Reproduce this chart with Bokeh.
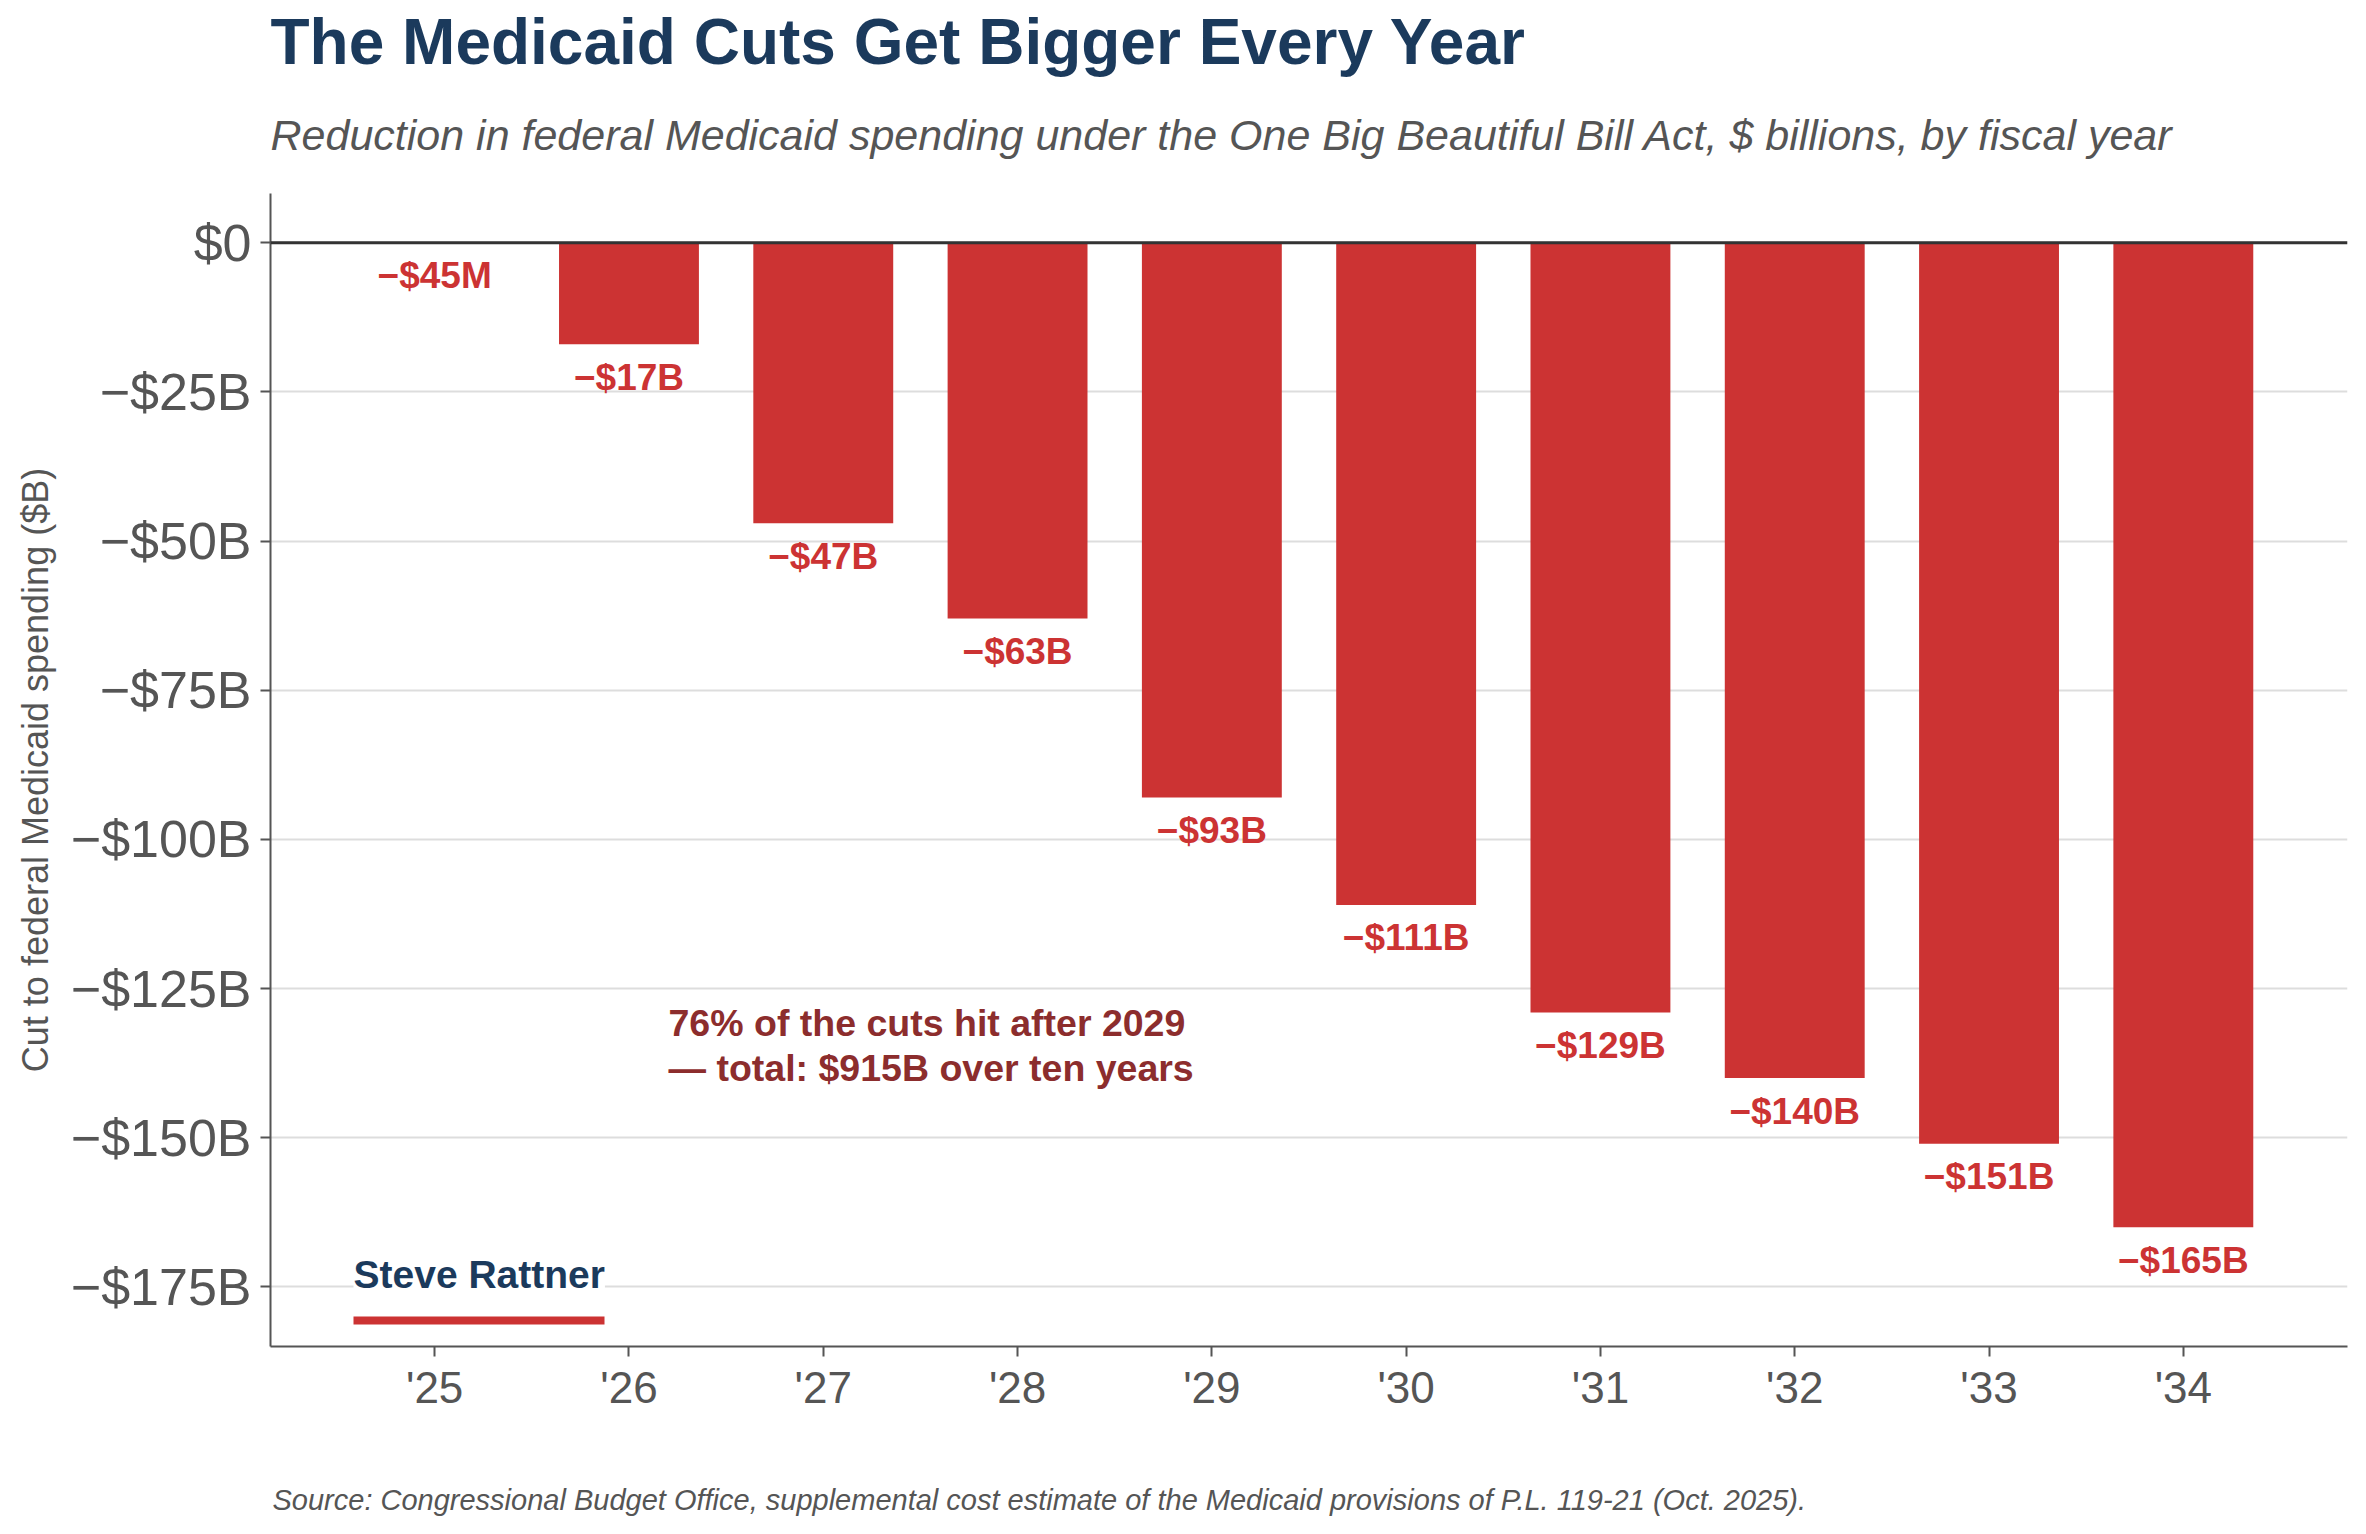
from bokeh.plotting import figure
from bokeh.models import (ColumnDataSource, FixedTicker, Label, Span, BoxAnnotation,
                          Range1d, FactorRange, Title)
from bokeh.embed import file_html
from bokeh.resources import INLINE
from bokeh.core.properties import value

# ---------------- data ----------------
years = ["'25", "'26", "'27", "'28", "'29", "'30", "'31", "'32", "'33", "'34"]
cuts = [-0.045, -17, -47, -63, -93, -111, -129, -140, -151, -165]
bar_labels = ["\u2212$45M", "\u2212$17B", "\u2212$47B", "\u2212$63B", "\u2212$93B",
              "\u2212$111B", "\u2212$129B", "\u2212$140B", "\u2212$151B", "\u2212$165B"]
y_ticks = [0, -25, -50, -75, -100, -125, -150, -175]
y_tick_labels = ["$0", "\u2212$25B", "\u2212$50B", "\u2212$75B", "\u2212$100B",
                 "\u2212$125B", "\u2212$150B", "\u2212$175B"]

title_text = "The Medicaid Cuts Get Bigger Every Year"
subtitle_text = ("Reduction in federal Medicaid spending under the One Big Beautiful Bill Act, "
                 "$ billions, by fiscal year")
source_text = ("Source: Congressional Budget Office, supplemental cost estimate of the "
               "Medicaid provisions of P.L. 119-21 (Oct. 2025).")
note_lines = ["76% of the cuts hit after 2029", "\u2014 total: $915B over ten years"]
byline = "Steve Rattner"
y_axis_title = "Cut to federal Medicaid spending ($B)"

# ---------------- style ----------------
FONT = "Liberation Sans"
RED = "#CC3333"
DARK_RED = "#8C2D2D"
NAVY = "#1B3A5C"
GRAY = "#555555"

W, H = 2350, 1518

src = ColumnDataSource(dict(year=years, cut=cuts, label=bar_labels))

p = figure(width=W, height=H,
           x_range=FactorRange(*years, range_padding=0.345, range_padding_units="absolute"),
           y_range=Range1d(-185, 8.25),
           output_backend="svg", toolbar_location=None,
           min_border_left=270, min_border_right=3,
           min_border_top=193, min_border_bottom=172)
p.outline_line_color = None
p.background_fill_color = "white"
p.border_fill_color = "white"

# grid
p.xgrid.grid_line_color = None
p.ygrid.ticker = FixedTicker(ticks=y_ticks)
p.ygrid.grid_line_color = "#dddddd"
p.ygrid.grid_line_width = 2

# bars
p.vbar(x="year", top=0, bottom="cut", width=0.72, source=src,
       fill_color=RED, line_color=None)

# zero line
p.add_layout(Span(location=0, dimension="width", line_color="#333333", line_width=3))

# bar value labels
p.text(x="year", y="cut", text="label", source=src,
       text_align="center", text_baseline="alphabetic", y_offset=33,
       text_font=value(FONT), text_font_style="bold", text_font_size="37px",
       text_color=RED)

# axes
for ax in (p.xaxis[0], p.yaxis[0]):
    ax.axis_line_color = GRAY
    ax.axis_line_width = 2
    ax.major_tick_line_color = GRAY
    ax.major_tick_line_width = 2
    ax.major_tick_out = 10
    ax.major_tick_in = 0
    ax.minor_tick_out = 0
    ax.minor_tick_in = 0
    ax.major_label_text_color = GRAY
    ax.major_label_text_font = FONT

p.yaxis.ticker = FixedTicker(ticks=y_ticks)
p.yaxis.major_label_overrides = {t: l for t, l in zip(y_ticks, y_tick_labels)}
p.yaxis.major_label_text_font_size = "52px"
p.yaxis.major_label_standoff = 9
p.yaxis.axis_label = y_axis_title
p.yaxis.axis_label_text_font = FONT
p.yaxis.axis_label_text_font_style = "normal"
p.yaxis.axis_label_text_font_size = "36px"
p.yaxis.axis_label_text_color = GRAY
p.yaxis.axis_label_standoff = 12

p.xaxis.major_label_text_font_size = "44px"
p.xaxis.major_label_standoff = 6

# titles (stacked outward from the frame: subtitle first, then title)
p.add_layout(Title(text=subtitle_text, align="left", vertical_align="top",
                   text_font=FONT, text_font_style="italic", text_font_size="43px",
                   text_color=GRAY, standoff=66), "above")
p.add_layout(Title(text=title_text, align="left", vertical_align="bottom",
                   text_font=FONT, text_font_style="bold", text_font_size="64px",
                   text_color=NAVY, standoff=0), "above")
# spacer below the x axis, then the source line
p.add_layout(Title(text=" ", align="left", vertical_align="top",
                   text_font=FONT, text_font_size="10px", standoff=56), "below")
p.add_layout(Title(text=source_text, align="left", vertical_align="top",
                   text_font=FONT, text_font_style="italic", text_font_size="29px",
                   text_color=GRAY, standoff=0, offset=2), "below")

# annotations inside the frame (screen units relative to the frame)
for line, yy in zip(note_lines, [324, 279]):
    p.add_layout(Label(x=398, y=yy, x_units="screen", y_units="screen", text=line,
                       text_font=FONT, text_font_style="bold", text_font_size="37.5px",
                       text_color=DARK_RED, text_baseline="alphabetic"))

p.add_layout(Label(x=83, y=72, x_units="screen", y_units="screen", text=byline,
                   text_font=FONT, text_font_style="bold", text_font_size="39px",
                   text_color=NAVY, text_baseline="alphabetic",
                   background_fill_color="white"))
p.add_layout(BoxAnnotation(left=83, right=334, bottom=22, top=30,
                           left_units="screen", right_units="screen",
                           bottom_units="screen", top_units="screen",
                           fill_color=RED, fill_alpha=1.0, line_color=None))

open("out.html", "w").write(file_html(p, INLINE))
